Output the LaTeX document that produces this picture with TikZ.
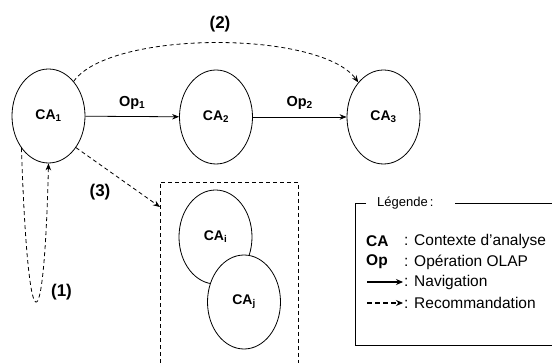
\documentclass[tikz,border=0pt]{standalone}
\usepackage{fontspec}
\setmainfont{Liberation Sans}
\usetikzlibrary{shapes.geometric,arrows.meta}
\tikzset{
  state/.style={draw, ellipse, minimum width=73pt, minimum height=94pt, inner sep=0pt, line width=0.8pt, font=\fontsize{14}{16}\selectfont\bfseries},
  lbl/.style={font=\fontsize{14.5}{16}\selectfont\bfseries, inner sep=0pt},
  numlbl/.style={font=\fontsize{17}{19}\selectfont\bfseries, inner sep=0pt},
  legtxt/.style={font=\fontsize{15.5}{17}\selectfont, inner sep=0pt, anchor=west},
  legbold/.style={font=\fontsize{15.5}{17}\selectfont\bfseries, inner sep=0pt, anchor=west},
  nav/.style={line width=0.8pt, -{Stealth[length=7pt,width=5.5pt]}},
  rec/.style={line width=0.8pt, dash pattern=on 4pt off 3pt, -{Stealth[length=7pt,width=5.5pt]}},
  legnav/.style={line width=1.2pt, -{Stealth[length=7pt,width=6pt]}},
  legrec/.style={line width=1.2pt, dash pattern=on 5pt off 3pt, -{Stealth[length=7pt,width=6pt]}},
  frame/.style={line width=0.8pt},
  dframe/.style={line width=0.8pt, dash pattern=on 4pt off 3pt},
}
\begin{document}
\begin{tikzpicture}[x=1pt,y=-1pt]
\useasboundingbox (0,0) rectangle (552,363);
% states
\node[state] (CA1) at (48.5,116) {CA\textsubscript{1}};
\node[state] (CA2) at (216,117) {CA\textsubscript{2}};
\node[state] (CA3) at (383.5,117) {CA\textsubscript{3}};
\node[state] (CAi) at (215.5,237) {CA\textsubscript{i}};
\node[state, fill=white] (CAj) at (244,302) {CA\textsubscript{j}};
% navigation
\draw[nav] (CA1) -- node[lbl, above=7pt] (op1) {Op\textsubscript{1}} (CA2);
\draw[nav] (CA2) -- node[lbl, above=7pt] (op2) {Op\textsubscript{2}} (CA3);
% dashed group box (open at bottom)
\coordinate (bl) at (160,363);
\coordinate (tl) at (160,182);
\coordinate (tr) at (298,182);
\coordinate (br) at (298,363);
\coordinate (boxin) at (160,207);
\draw[dframe] (bl) -- (tl) -- (tr) -- (br);
% recommendations
\draw[rec] (CA1.54) .. controls (110,30) and (320,30) .. (CA3.126);
\node[numlbl] (l2) at (220,24) {(2)};
\draw[rec] (CA1.-49) -- (boxin);
\node[numlbl] (l3) at (100,192) {(3)};
\draw[rec] (CA1.-130) .. controls (28,350) and (44,350) .. (CA1.south);
\node[numlbl] (l1) at (61.5,292) {(1)};
% legend
\coordinate (lg1) at (366,203);
\coordinate (lg0) at (355,203);
\coordinate (lg2) at (355,345);
\coordinate (lg3) at (552,345);
\coordinate (lg4) at (455,203);
\coordinate (lg5) at (552,203);
\draw[frame] (lg1) -- (lg0) -- (lg2) -- (lg3);
\draw[frame] (lg4) -- (lg5);
\node[font=\fontsize{13}{15}\selectfont, inner sep=0pt, anchor=west] (legt) at (377,203) {Légende\,:};
\node[legbold] (kCA) at (366,241) {CA};
\node[legtxt] (tCA) at (404,241) {: Contexte d’analyse};
\node[legbold] (kOp) at (366,262) {Op};
\node[legtxt] (tOp) at (404,262) {: Opération OLAP};
\coordinate (n0) at (367,282);
\coordinate (n1) at (403,282);
\draw[legnav] (n0) -- (n1);
\node[legtxt] (tNav) at (404,282) {: Navigation};
\coordinate (r0) at (367,303);
\coordinate (r1) at (403,303);
\draw[legrec] (r0) -- (r1);
\node[legtxt] (tRec) at (404,303) {: Recommandation};
\end{tikzpicture}
\end{document}
